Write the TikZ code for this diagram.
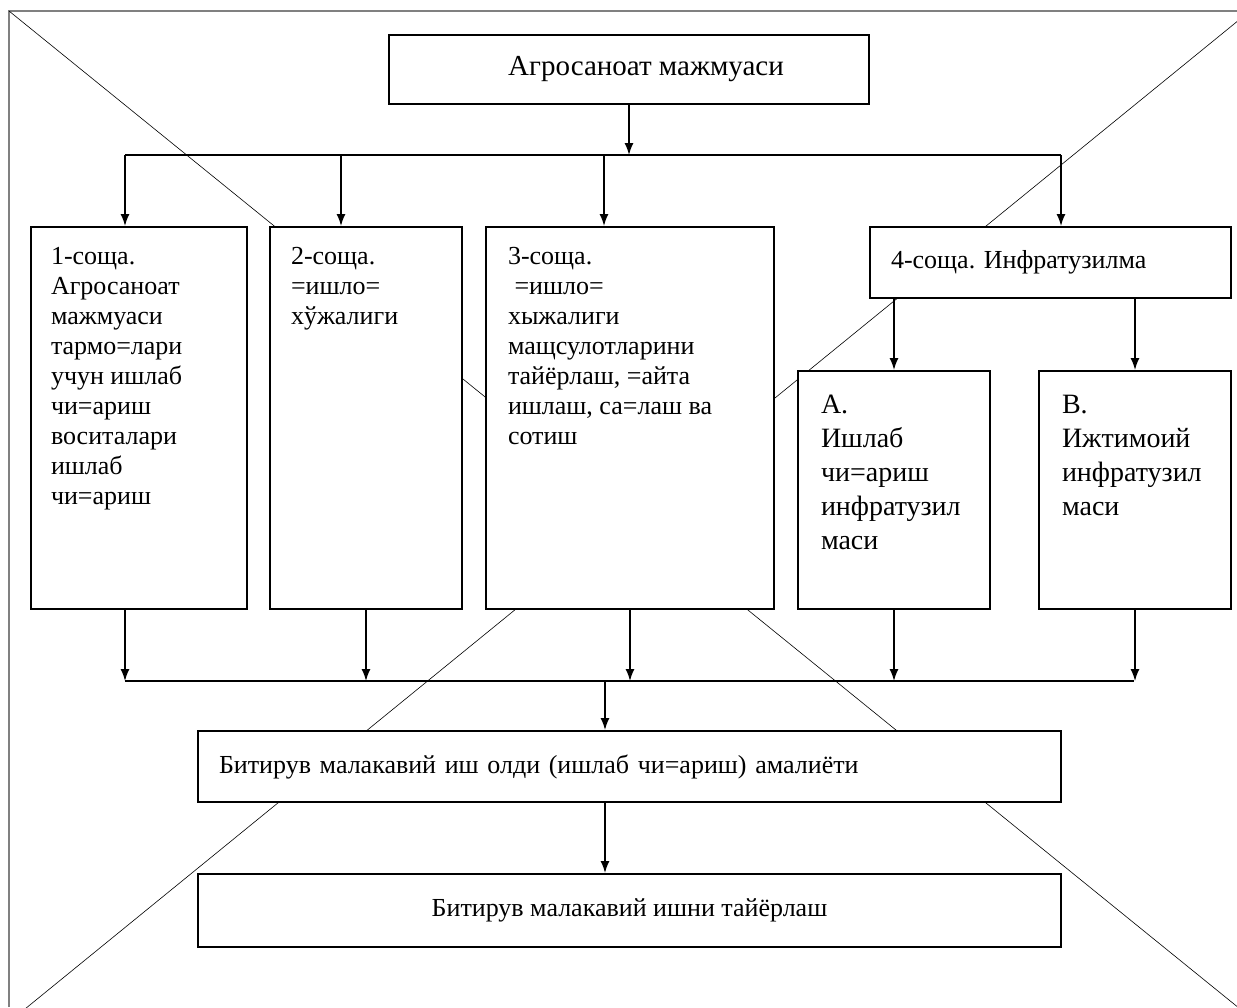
\documentclass[tikz,border=0pt]{standalone}
\usepackage{fontspec}
\setmainfont{Liberation Serif}
\newfontfamily\uzfont{Liberation Serif}
\usetikzlibrary{arrows.meta,calc}
\frenchspacing

\begin{document}
\begin{tikzpicture}[x=1pt,y=1pt,
  box/.style={draw, fill=white, line width=2pt, inner sep=0pt},
  arr/.style={line width=1.5pt, -{Latex[length=12pt,width=9pt]}},
  bus/.style={line width=1.5pt},
  txt/.style={font=\uzfont\fontsize{26}{30}\selectfont},
  bigtxt/.style={font=\uzfont\fontsize{28}{34}\selectfont}]
  \clip (0,0) rectangle (1237,-1007);
  \draw[gray, line width=1.2pt] (9,-1007) -- (9,-11) -- (1237,-11);
  \draw[line width=0.6pt] (9,-11) -- (1250,-1017);
  \draw[line width=0.6pt] (1250,-11) -- (9,-1022);

  \node[box, font=\uzfont\fontsize{29}{34}\selectfont, minimum width=480pt, minimum height=69pt] (agro) at (629,-69.5) {\hspace*{34pt}Агросаноат мажмуаси};

  \node[box, txt, anchor=north west, inner xsep=20pt, inner ysep=16pt] (s1) at (30,-226)
    {\parbox[t][350pt][t]{176pt}{\uzfont\raggedright\strut 1-соща.\\ Агросаноат\\ мажмуаси\\ тармо=лари\\ учун ишлаб\\ чи=ариш\\ воситалари\\ ишлаб\\ чи=ариш}};
  \node[box, txt, anchor=north west, inner xsep=21pt, inner ysep=16pt] (s2) at (269,-226)
    {\parbox[t][350pt][t]{150pt}{\uzfont\raggedright\strut 2-соща.\\ =ишло=\\ хўжалиги}};
  \node[box, txt, anchor=north west, inner xsep=22pt, inner ysep=16pt] (s3) at (485,-226)
    {\parbox[t][350pt][t]{244pt}{\uzfont\raggedright\strut 3-соща.\\ \ =ишло=\\ хыжалиги\\ мащсулотларини\\ тайёрлаш, =айта\\ ишлаш, са=лаш ва\\ сотиш}};
  \node[box, txt, anchor=north west, text width=319pt, align=left, inner xsep=21pt, minimum height=71pt] (s4) at (869,-226)
    {\uzfont 4-соща. Инфратузилма};
  \node[box, bigtxt, anchor=north west, inner xsep=23pt, inner ysep=19pt] (sA) at (797,-370)
    {\parbox[t][200pt][t]{146pt}{\uzfont\raggedright\strut A.\\ Ишлаб\\ чи=ариш\\ инфратузил\\ маси}};
  \node[box, bigtxt, anchor=north west, inner xsep=23pt, inner ysep=19pt] (sB) at (1038,-370)
    {\parbox[t][200pt][t]{146pt}{\uzfont\raggedright\strut B.\\ Ижтимоий\\ инфратузил\\ маси}};

  \node[box, txt, anchor=north west, text width=821pt, align=left, inner xsep=21pt, minimum height=71pt] (b1) at (197,-730)
    {\uzfont Битирув малакавий иш олди (ишлаб чи=ариш) амалиёти};
  \node[box, txt, anchor=north west, minimum width=863pt, minimum height=73pt] (b2) at (197,-873)
    {Битирув малакавий ишни тайёрлаш};

  \coordinate (t1) at (125,-155);
  \coordinate (t2) at (341,-155);
  \coordinate (t3) at (604,-155);
  \coordinate (t4) at (1061,-155);
  \draw[arr] (agro.south) -- (agro.south |- t1);
  \draw[bus] (t1) -- (t4);
  \draw[arr] (t1) -- (t1 |- s1.north);
  \draw[arr] (t2) -- (t2 |- s2.north);
  \draw[arr] (t3) -- (t3 |- s3.north);
  \draw[arr] (t4) -- (t4 |- s4.north);
  \draw[arr] (sA.north |- s4.south) -- (sA.north);
  \draw[arr] (sB.north |- s4.south) -- (sB.north);

  \coordinate (u1) at (125,-681);
  \coordinate (u5) at (1134,-681);
  \coordinate (m) at (605,-681);
  \draw[arr] (u1 |- s1.south) -- (u1);
  \draw[arr] (s2.south) -- (s2.south |- u1);
  \draw[arr] (s3.south) -- (s3.south |- u1);
  \draw[arr] (sA.south) -- (sA.south |- u1);
  \draw[arr] (sB.south) -- (sB.south |- u1);
  \draw[bus] (u1) -- (u5);
  \draw[arr] (m) -- (m |- b1.north);
  \draw[arr] (m |- b1.south) -- (m |- b2.north);
\end{tikzpicture}
\end{document}
